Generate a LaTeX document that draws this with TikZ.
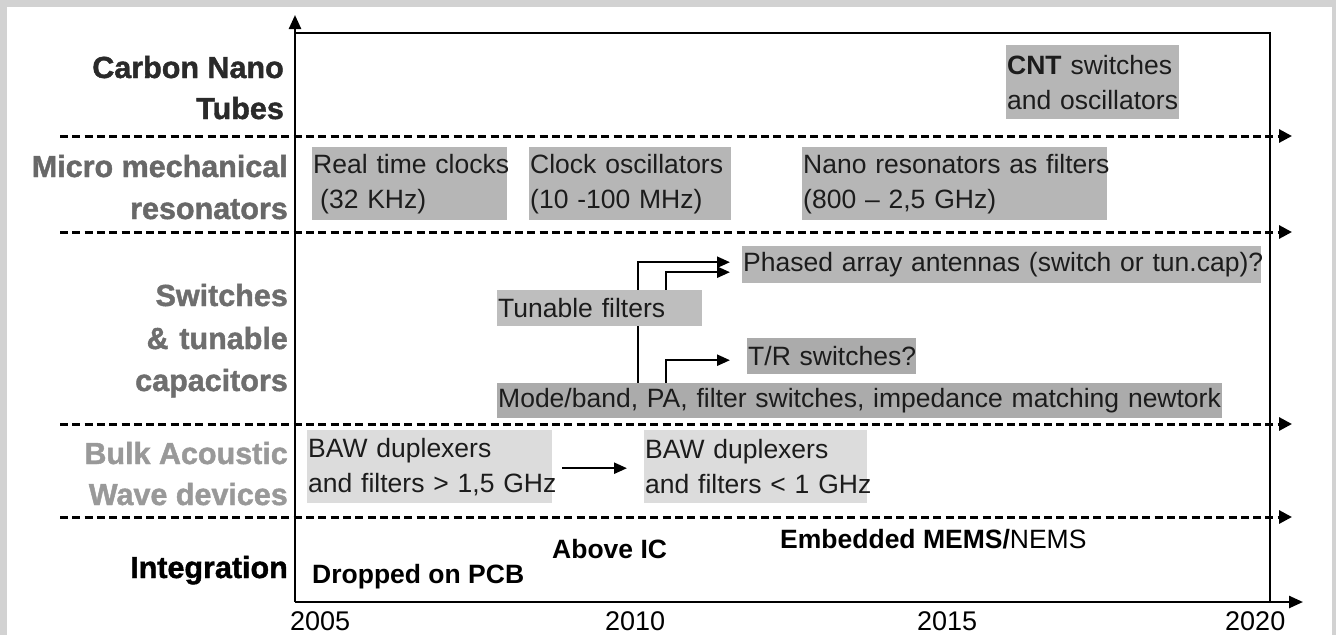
\documentclass[tikz,border=0pt]{standalone}
\usepackage{fontspec}
\setmainfont{Liberation Sans}
\newfontfamily\heavyfont{Liberation Sans}[BoldFeatures={FakeBold=1.4}]
\usetikzlibrary{arrows.meta,calc}
\pgfdeclarelayer{panel}
\pgfdeclarelayer{links}
\pgfsetlayers{panel,links,main}

\definecolor{framegray}{HTML}{D2D2D2}
\definecolor{boxmid}{HTML}{B6B6B6}
\definecolor{boxsoft}{HTML}{BEBEBE}
\definecolor{boxdark}{HTML}{ABABAB}
\definecolor{boxlight}{HTML}{DCDCDC}
\definecolor{inktext}{HTML}{1C1C1C}
\definecolor{rowcnt}{HTML}{2A2A2A}
\definecolor{rowmems}{HTML}{686868}
\definecolor{rowsw}{HTML}{6E6E6E}
\definecolor{rowbaw}{HTML}{999999}

\newcommand\bodyfont{\fontsize{26.5}{35}\selectfont}
\newcommand\rowfont{\heavyfont\fontsize{30.5}{36}\selectfont\bfseries}
\newcommand\intfont{\fontsize{26.5}{32}\selectfont\bfseries}
\newcommand\yearfont{\fontsize{27}{32}\selectfont}
\newcommand\oneline[1]{\mbox{#1}}

\begin{document}
\begin{tikzpicture}[x=1pt,y=-1pt,
  rowlabel/.style={font=\rowfont, anchor=base east, inner sep=0pt},
  tlabel/.style={anchor=base west, inner sep=0pt},
  databox/.style={rectangle, anchor=north west, inner xsep=1pt, inner ysep=0pt,
    align=left, font=\bodyfont, text=inktext},
  rowsep/.style={line width=3pt, dash pattern=on 8pt off 4.3pt,
    -{Triangle[length=13pt,width=13pt]}},
  axisline/.style={line width=2.4pt, -{Triangle[length=14pt,width=12pt]}},
  link/.style={line width=2.4pt, -{Triangle[length=13pt,width=11pt]}}]

\useasboundingbox (0,0) rectangle (1336,635);
\begin{pgfonlayer}{panel}
  \fill[framegray] (0,0) rectangle (1336,635);
  \fill[white] (7,7) rectangle (1332,635);
\end{pgfonlayer}

% frame of the time chart
\coordinate (origin) at (295,602);
\coordinate (ytip) at (295,15);
\coordinate (xtip) at (1303,602);
\coordinate (topleft) at (295,33);
\coordinate (topright) at (1270,33);
\coordinate (botright) at (1270,602);
\draw[line width=1.5pt] (topleft) -- (topright) -- (botright);
\draw[axisline] (origin) -- (ytip);
\draw[axisline] (origin) -- (xtip);

% row separators
\foreach \yy in {136,232,424,517}
  \draw[rowsep] (60,\yy) -- (1292,\yy);

% row titles
\node[rowlabel, text=rowcnt] (cnt1) at (284,78) {Carbon Nano};
\node[rowlabel, text=rowcnt] (cnt2) at (284,119) {Tubes};
\node[rowlabel, text=rowmems] (mem1) at (288,177) {Micro mechanical};
\node[rowlabel, text=rowmems] (mem2) at (288,219) {resonators};
\node[rowlabel, text=rowsw] (sw1) at (288,306) {Switches};
\node[rowlabel, text=rowsw] (sw2) at (288,349) {\&\hspace{0.35em}tunable};
\node[rowlabel, text=rowsw] (sw3) at (288,391) {capacitors};
\node[rowlabel, text=rowbaw] (baw1l) at (288,464) {Bulk Acoustic};
\node[rowlabel, text=rowbaw] (baw2l) at (288,505) {Wave devices};
\node[rowlabel, text=black] (intl) at (288,578) {Integration};

% technology boxes
\node[databox, fill=boxmid, minimum width=173, minimum height=74, text width=171]
  (cnt) at (1006,45) {\oneline{\textbf{CNT} switches}\\\oneline{and oscillators}};
\node[databox, fill=boxmid, minimum width=195, minimum height=73, text width=193]
  (rtc) at (312,147) {\oneline{Real time clocks}\\\oneline{\hspace*{7pt}(32 KHz)}};
\node[databox, fill=boxmid, minimum width=202, minimum height=73, text width=200]
  (osc) at (529,147) {\oneline{Clock oscillators}\\\oneline{(10 -100 MHz)}};
\node[databox, fill=boxmid, minimum width=305, minimum height=73, text width=303]
  (nano) at (802,147) {\oneline{Nano resonators as filters}\\\oneline{(800 \textendash{} 2,5 GHz)}};
\node[databox, fill=boxmid, minimum width=519, minimum height=37, text width=517]
  (phased) at (742,246) {\oneline{Phased array antennas (switch or tun.cap)?}};
\node[databox, fill=boxsoft, minimum width=205, minimum height=36, text width=203]
  (tunable) at (497,290) {\oneline{Tunable filters}};
\node[databox, fill=boxdark, minimum width=169, minimum height=36, text width=167]
  (tr) at (747,338) {\oneline{T/R switches?}};
\node[databox, fill=boxdark, minimum width=725, minimum height=35, text width=723]
  (mode) at (497,383) {\oneline{Mode/band, PA, filter switches, impedance matching newtork}};
\node[databox, fill=boxlight, minimum width=245, minimum height=73, text width=243]
  (baw1) at (307,430) {\oneline{BAW duplexers}\\\oneline{and filters > 1,5 GHz}};
\node[databox, fill=boxlight, minimum width=223, minimum height=73, text width=221]
  (baw2) at (644,430) {\oneline{BAW duplexers}\\\oneline{and filters < 1 GHz}};

% evolution arrows
\begin{pgfonlayer}{links}
  \draw[link] ($(mode.north west)+(141,0)$) |- ($(phased.west)+(-12,-2.5)$);
  \draw[link] ($(tunable.north west)+(169,0)$) |- ($(phased.west)+(-12,7.5)$);
  \draw[link] ($(mode.north west)+(169,0)$) |- ($(tr.west)+(-17,4)$);
\end{pgfonlayer}
\draw[link] ($(baw1.east)+(10,1.5)$) -- ($(baw2.west)+(-17,1.5)$);

% integration steps
\node[tlabel, font=\intfont] (pcb) at (312,583) {Dropped on PCB};
\node[tlabel, font=\intfont] (aic) at (552,558) {Above IC};
\node[tlabel, font=\bodyfont] (emb) at (780,548) {{\bfseries Embedded MEMS/}NEMS};

% years
\node[tlabel, font=\yearfont] (y2005) at (290,630) {2005};
\node[tlabel, font=\yearfont] (y2010) at (605,630) {2010};
\node[tlabel, font=\yearfont] (y2015) at (917,630) {2015};
\node[tlabel, font=\yearfont] (y2020) at (1225,630) {2020};
\end{tikzpicture}
\end{document}
